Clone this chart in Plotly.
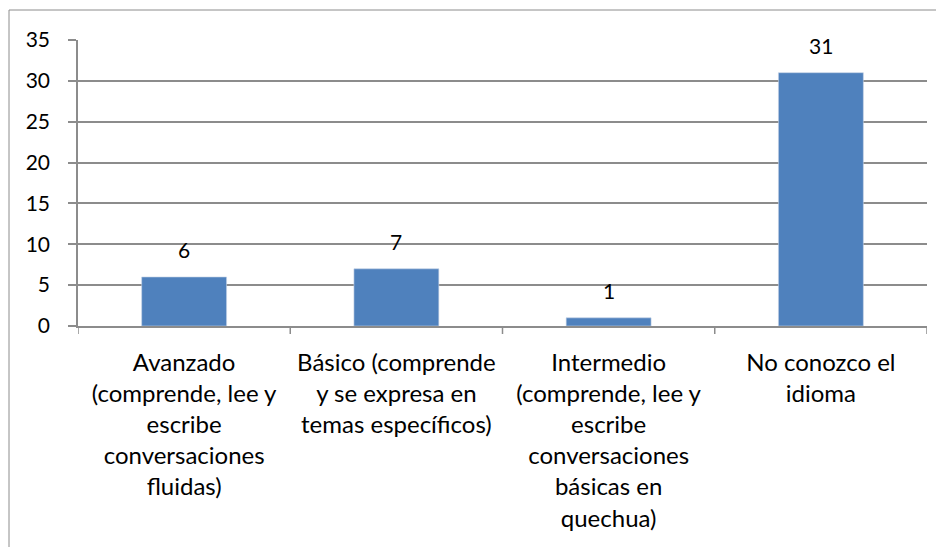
import plotly.graph_objects as go

categories = [
    "Avanzado<br>(comprende, lee y<br>escribe<br>conversaciones<br>fluidas)",
    "Básico (comprende<br>y se expresa en<br>temas específicos)",
    "Intermedio<br>(comprende, lee y<br>escribe<br>conversaciones<br>básicas en<br>quechua)",
    "No conozco el<br>idioma",
]
values = [6, 7, 1, 31]
y_ticks = [0, 5, 10, 15, 20, 25, 30, 35]

FONT = "Lato"
GRID = "#8c8c8c"
BAR = "#4F81BD"

# page body has an 8px default margin; compensate so the plot lands where intended
OFF = 8
W, H = 944, 547
L, R, T, B = 78 - OFF, 17 + OFF, 40 - OFF, 221 + OFF
pw, ph = W - L - R, H - T - B

fig = go.Figure()
fig.add_trace(go.Bar(x=categories, y=values,
                     marker=dict(color=BAR, line=dict(color="#c6d4e6", width=0.6)), width=0.4))

for c, v in zip(categories, values):
    fig.add_annotation(x=c, y=v, text=str(v), showarrow=False, yanchor="bottom", yshift=13,
                       font=dict(family=FONT, size=21, color="black"))

def px2x(px):
    return (px - OFF - L) / pw

def px2y(py):
    return (H - B - (py - OFF)) / ph

# chart border
fig.add_shape(type="rect", xref="paper", yref="paper",
              x0=px2x(9), x1=px2x(980), y0=px2y(10), y1=px2y(600),
              line=dict(color="#8c8c8c", width=1), fillcolor="rgba(0,0,0,0)", layer="below")

# category separator ticks
for i in range(5):
    fig.add_shape(type="line", xref="x", yref="paper", x0=i - 0.5, x1=i - 0.5,
                  y0=0, y1=px2y(334), line=dict(color=GRID, width=1.5))

fig.update_layout(
    width=W, height=H,
    margin=dict(l=L, r=R, t=T, b=B),
    paper_bgcolor="white", plot_bgcolor="white",
    showlegend=False,
    font=dict(family=FONT, size=21, color="black"),
    xaxis=dict(range=[-0.5, 3.5], showgrid=False, showline=True, linecolor=GRID, linewidth=1.5,
               ticks="", tickfont=dict(family=FONT, size=24, color="black"), ticklabelstandoff=14),
    yaxis=dict(range=[0, 35], tickvals=y_ticks, showgrid=True, gridcolor=GRID, gridwidth=1.5,
               showline=True, linecolor=GRID, linewidth=1.5, ticks="outside", ticklen=8,
               tickcolor=GRID, tickwidth=1.5, zeroline=False, ticklabelstandoff=14,
               tickfont=dict(family=FONT, size=21, color="black")),
    bargap=0.6,
)

fig.write_html("out.html")
